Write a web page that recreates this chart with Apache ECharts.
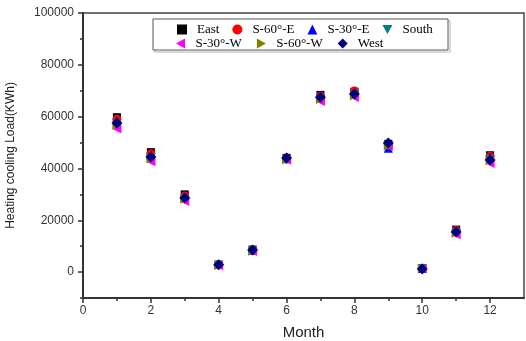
<!DOCTYPE html>
<html>
<head>
<meta charset="utf-8">
<script src="https://cdn.jsdelivr.net/npm/echarts@6/dist/echarts.min.js"></script>
<style>
  html, body { margin: 0; padding: 0; background: #fff; }
  #chart { width: 526px; height: 341px; }
</style>
</head>
<body>
<div id="chart"></div>
<script>
// months on x axis
const months = [1, 2, 3, 4, 5, 6, 7, 8, 9, 10, 11, 12];

// heating/cooling load per orientation (KWh)
const east = [59800, 46300, 30000, 2900, 8700, 44100, 68400, 69600, 49500, 1500, 16400, 45100];
const s60e = [59000, 45700, 29400, 2800, 8600, 44000, 68000, 69900, 49200, 1500, 16100, 44700];
const s30e = [58300, 45200, 28800, 2900, 8400, 43700, 67400, 69200, 47800, 1400, 15900, 44300];
const south = [57200, 44000, 28300, 2600, 8100, 43500, 66900, 68400, 48800, 1300, 15300, 43500];
const s30w = [55200, 42600, 27200, 2400, 7900, 43300, 65800, 67400, 48500, 1200, 14400, 41900];
const s60w = [56600, 43700, 28100, 2500, 8000, 43500, 66600, 68100, 48700, 1300, 15000, 43000];
const west = [57500, 44400, 28600, 2800, 8500, 44000, 67500, 68700, 49800, 1200, 15500, 43300];

const xMajor = [0, 2, 4, 6, 8, 10, 12];
const xMinor = [1, 3, 5, 7, 9, 11];
const yMajor = [0, 20000, 40000, 60000, 80000, 100000];
const yMinor = [-10000, 10000, 30000, 50000, 70000, 90000];

// triangle shapes pointing down / left / right
const triDown = 'path://M0,0 L10,0 L5,9 Z';
const triLeft = 'path://M9,0 L9,10 L0,5 Z';
const triRight = 'path://M0,0 L0,10 L9,5 Z';

function pairs(vals) {
  return months.map((m, i) => [m, vals[i]]);
}

const myChart = echarts.init(document.getElementById('chart'));

const seriesDefs = [
  { name: 'East', data: east, symbol: 'rect', size: 8, color: '#000000' },
  { name: 'S-60°-E', data: s60e, symbol: 'circle', size: 9, color: '#ff0000' },
  { name: 'S-30°-E', data: s30e, symbol: 'triangle', size: 9, color: '#0000ff' },
  { name: 'South', data: south, symbol: triDown, size: 9, color: '#008080' },
  { name: 'S-30°-W', data: s30w, symbol: triLeft, size: 9, color: '#ff00ff' },
  { name: 'S-60°-W', data: s60w, symbol: triRight, size: 9, color: '#808000' },
  { name: 'West', data: west, symbol: 'diamond', size: 11, color: '#000080' }
];

const legendText = {
  fontFamily: 'Liberation Serif',
  fontSize: 13,
  color: '#000',
  padding: [0, 0, 0, 5]
};

function legendItems(names) {
  return names.map(n => {
    const s = seriesDefs.find(d => d.name === n);
    return { name: n, icon: s.symbol };
  });
}

const tickStyle = { color: '#333', width: 1.5 };

const chartOption = {
  animation: false,
  grid: {
    left: 83,
    right: 2,
    top: 13,
    bottom: 43,
    outerBoundsMode: 'none',
    containLabel: false,
    show: true,
    borderColor: '#444',
    borderWidth: 1.5
  },
  graphic: [
    {
      type: 'rect',
      shape: { x: 155, y: 21, width: 295, height: 31 },
      style: { fill: 'none', stroke: '#ccc', lineWidth: 1.5 },
      z: 99
    },
    {
      type: 'rect',
      shape: { x: 153, y: 19, width: 295, height: 31 },
      style: { fill: '#fff', stroke: '#555', lineWidth: 1 },
      z: 100
    }
  ],
  legend: [
    {
      data: legendItems(['East', 'S-60°-E', 'S-30°-E', 'South']),
      left: 172,
      top: 18,
      itemWidth: 10,
      itemHeight: 10,
      itemGap: 13,
      textStyle: legendText,
      selectedMode: false,
      z: 101
    },
    {
      data: legendItems(['S-30°-W', 'S-60°-W', 'West']),
      left: 171,
      top: 32,
      itemWidth: 10,
      itemHeight: 10,
      itemGap: 15,
      textStyle: legendText,
      selectedMode: false,
      z: 101
    }
  ],
  xAxis: [
    {
      type: 'value',
      min: 0,
      max: 13,
      splitLine: { show: false },
      axisLine: { show: true, onZero: false, lineStyle: { color: '#333', width: 2 } },
      name: 'Month',
      nameLocation: 'middle',
      nameGap: 27,
      nameTextStyle: { fontFamily: 'Liberation Sans', fontSize: 15, color: '#222' },
      axisTick: { customValues: xMajor, length: 5, lineStyle: tickStyle },
      axisLabel: { customValues: xMajor, fontFamily: 'Liberation Sans', fontSize: 12, color: '#333', margin: 7 }
    },
    {
      type: 'value',
      min: 0,
      max: 13,
      position: 'bottom',
      splitLine: { show: false },
      axisLine: { show: false, onZero: false },
      axisTick: { customValues: xMinor, length: 3, lineStyle: tickStyle },
      axisLabel: { show: false }
    }
  ],
  yAxis: [
    {
      type: 'value',
      min: -10000,
      max: 100000,
      splitLine: { show: false },
      axisLine: { show: true, onZero: false, lineStyle: { color: '#333', width: 2 } },
      name: 'Heating cooling Load(KWh)',
      nameLocation: 'middle',
      nameGap: 66,
      nameTextStyle: { fontFamily: 'Liberation Sans', fontSize: 12, color: '#222' },
      axisTick: { customValues: yMajor, length: 5, lineStyle: tickStyle },
      axisLabel: {
        customValues: yMajor,
        fontFamily: 'Liberation Sans',
        fontSize: 12,
        color: '#333',
        margin: 9,
        formatter: v => String(v)
      }
    },
    {
      type: 'value',
      min: -10000,
      max: 100000,
      position: 'left',
      splitLine: { show: false },
      axisLine: { show: false, onZero: false },
      axisTick: { customValues: yMinor, length: 3, lineStyle: tickStyle },
      axisLabel: { show: false }
    }
  ],
  series: seriesDefs.map(s => ({
    name: s.name,
    type: 'scatter',
    data: pairs(s.data),
    symbol: s.symbol,
    symbolSize: s.size,
    itemStyle: { color: s.color, opacity: 1 }
  }))
};

myChart.setOption(chartOption);
</script>
</body>
</html>
